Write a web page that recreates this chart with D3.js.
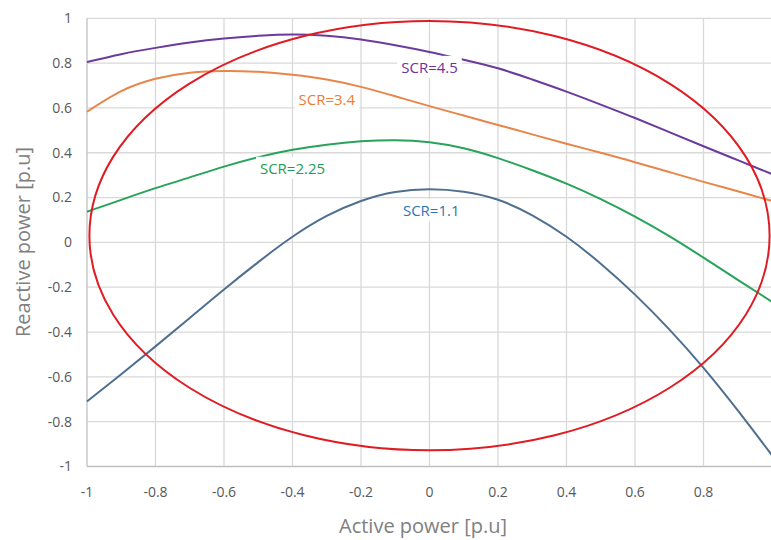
<!DOCTYPE html>
<html lang="en">
<head>
<meta charset="utf-8">
<title>SCR capability curves</title>
<script src="https://d3js.org/d3.v7.min.js"></script>
<style>
  body { margin: 0; background: #fff; }
  text { font-family: "Open Sans", sans-serif; }
</style>
</head>
<body>
<script>
// data
var xs = [-1, -0.9, -0.8, -0.7, -0.6, -0.5, -0.4, -0.3, -0.2, -0.1, 0, 0.1, 0.2, 0.3, 0.4, 0.5, 0.6, 0.7, 0.8, 0.9, 1];
var scr11  = [-0.71, -0.588, -0.464, -0.337, -0.21, -0.088, 0.025, 0.118, 0.185, 0.225, 0.237, 0.226, 0.19, 0.121, 0.025, -0.095, -0.233, -0.388, -0.56, -0.75, -0.95];
var scr225 = [0.137, 0.19, 0.242, 0.29, 0.338, 0.38, 0.413, 0.436, 0.451, 0.456, 0.447, 0.42, 0.376, 0.322, 0.262, 0.193, 0.115, 0.028, -0.068, -0.167, -0.265];
var scr34  = [0.583, 0.675, 0.73, 0.757, 0.765, 0.761, 0.748, 0.727, 0.694, 0.652, 0.608, 0.566, 0.524, 0.482, 0.44, 0.4, 0.358, 0.314, 0.27, 0.228, 0.185];
var scr45  = [0.805, 0.84, 0.868, 0.892, 0.91, 0.922, 0.928, 0.922, 0.905, 0.88, 0.85, 0.815, 0.777, 0.727, 0.673, 0.615, 0.555, 0.492, 0.429, 0.367, 0.305];
// limit ellipse: centre and half-axes in p.u.
var ellipse = {cx: 0, cy: 0.03, rx: 0.993, ry: 0.958};
var ticks = [-1, -0.8, -0.6, -0.4, -0.2, 0, 0.2, 0.4, 0.6, 0.8, 1];
var labels = [
  {text: "SCR=4.5", x: 0, y: 0.78, color: "#7030a0"},
  {text: "SCR=3.4", x: -0.3, y: 0.635, color: "#ed7d31"},
  {text: "SCR=2.25", x: -0.4, y: 0.33, color: "#1e9e54"},
  {text: "SCR=1.1", x: 0.005, y: 0.14, color: "#2e75b6"}
];

var w = 771, h = 540;
var svg = d3.select("body").append("svg").attr("width", w).attr("height", h);

var x = d3.scaleLinear().domain([-1, 1]).range([87, 772]);
var y = d3.scaleLinear().domain([-1, 1]).range([466.5, 18.3]);

// grid
svg.append("g").selectAll("line").data(ticks.filter(d => d > -1)).join("line")
  .attr("x1", d => x(d)).attr("x2", d => x(d))
  .attr("y1", y(1)).attr("y2", y(-1))
  .attr("stroke", "#d9d9d9").attr("stroke-width", 1.3);
svg.append("g").selectAll("line").data(ticks.filter(d => d > -1)).join("line")
  .attr("x1", x(-1)).attr("x2", x(1))
  .attr("y1", d => y(d)).attr("y2", d => y(d))
  .attr("stroke", "#d9d9d9").attr("stroke-width", 1.3);

// axes lines
svg.append("line").attr("x1", x(-1)).attr("x2", x(-1)).attr("y1", y(1)).attr("y2", y(-1))
  .attr("stroke", "#c8c8c8").attr("stroke-width", 1.5);
svg.append("line").attr("x1", x(-1)).attr("x2", x(1)).attr("y1", y(-1)).attr("y2", y(-1))
  .attr("stroke", "#bfbfbf").attr("stroke-width", 1.5);

// tick labels (plain hyphen minus like the original)
svg.append("g").selectAll("text").data(ticks).join("text")
  .attr("x", 72).attr("y", d => y(d)).attr("dy", "0.35em")
  .attr("text-anchor", "end").attr("font-size", 14).attr("fill", "#595959")
  .text(d => String(d));
svg.append("g").selectAll("text").data(ticks.slice(0, -1)).join("text")
  .attr("x", d => x(d)).attr("y", 497)
  .attr("text-anchor", "middle").attr("font-size", 14).attr("fill", "#595959")
  .text(d => String(d));

// axis titles
svg.append("text").attr("x", 423).attr("y", 533)
  .attr("text-anchor", "middle").attr("font-size", 20).attr("fill", "#808080")
  .text("Active power [p.u]");
svg.append("text").attr("transform", "translate(30,242) rotate(-90)")
  .attr("text-anchor", "middle").attr("font-size", 20).attr("fill", "#808080")
  .text("Reactive power [p.u]");

// curves
var line = d3.line().x(d => x(d[0])).y(d => y(d[1])).curve(d3.curveNatural);
var series = [
  {vals: scr45, color: "#6b3a9c"},
  {vals: scr34, color: "#e8864a"},
  {vals: scr225, color: "#27a35a"},
  {vals: scr11, color: "#4f6f8f"}
];
svg.append("g").selectAll("path").data(series).join("path")
  .attr("d", s => line(xs.map((v, i) => [v, s.vals[i]])))
  .attr("fill", "none").attr("stroke", s => s.color).attr("stroke-width", 2);

// ellipse
svg.append("ellipse")
  .attr("cx", x(ellipse.cx)).attr("cy", y(ellipse.cy))
  .attr("rx", x(ellipse.rx) - x(0)).attr("ry", y(0) - y(ellipse.ry))
  .attr("fill", "none").attr("stroke", "#e01b22").attr("stroke-width", 2);

// data labels with white boxes
var lg = svg.append("g").selectAll("g").data(labels).join("g")
  .attr("transform", d => `translate(${x(d.x)},${y(d.y)})`);
lg.append("text").attr("text-anchor", "middle").attr("dy", "0.35em")
  .attr("font-size", 15).attr("fill", d => d.color).text(d => d.text)
  .each(function () {
    var b = this.getBBox();
    d3.select(this.parentNode).insert("rect", "text")
      .attr("x", b.x - 4).attr("y", b.y - 1).attr("width", b.width + 8).attr("height", b.height + 2)
      .attr("fill", "#fff");
  });
</script>
</body>
</html>
